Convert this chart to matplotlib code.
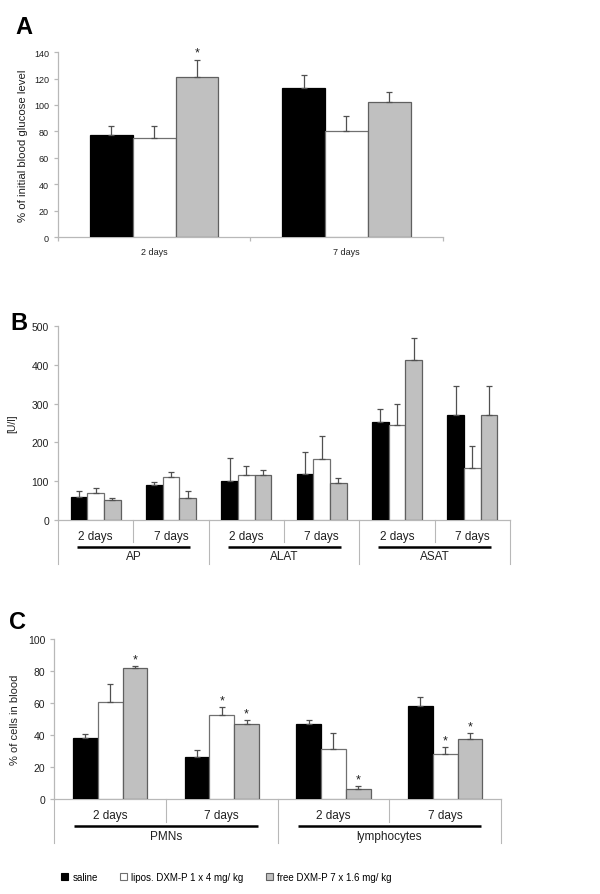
import numpy as np
import matplotlib
matplotlib.use("Agg")
import matplotlib.pyplot as plt
from matplotlib.patches import Patch
from matplotlib.transforms import blended_transform_factory

plt.rcParams["font.family"] = ["Liberation Sans", "DejaVu Sans"]

# ── data ──────────────────────────────────────────────────────────────────────
series_names = ["saline", "lipos. DXM-P 1 x 4 mg/ kg", "free DXM-P 7 x 1.6 mg/ kg"]

# A: blood glucose
a_cats = ["2 days", "7 days"]
a_saline = [77, 113]
a_lipos = [75, 80]
a_free = [121.5, 102]
a_saline_err = [7, 10]
a_lipos_err = [9, 12]
a_free_err = [12.5, 8]
a_stars = [(0, 2)]

# B: enzymes
b_cats = ["2 days", "7 days", "2 days", "7 days", "2 days", "7 days"]
b_groups = ["AP", "ALAT", "ASAT"]
b_saline = [59, 89, 99, 119, 252, 271]
b_lipos = [69, 110, 115, 156, 246, 133]
b_free = [50, 56, 115, 94, 412, 271]
b_saline_err = [16, 9, 60, 55, 33, 75]
b_lipos_err = [12, 14, 23, 61, 54, 57]
b_free_err = [7, 17, 14, 13, 57, 75]

# C: cell counts
c_cats = ["2 days", "7 days", "2 days", "7 days"]
c_groups = ["PMNs", "lymphocytes"]
c_saline = [38.1, 26.5, 47.1, 58.3]
c_lipos = [60.8, 52.7, 31.0, 28.3]
c_free = [81.9, 46.7, 6.0, 37.3]
c_saline_err = [2.5, 3.9, 2.1, 5.2]
c_lipos_err = [10.9, 4.6, 10.0, 4.2]
c_free_err = [1.4, 2.5, 1.9, 3.7]
c_stars = [(0, 2), (1, 1), (1, 2), (2, 2), (3, 1), (3, 2)]

# ── style ─────────────────────────────────────────────────────────────────────
FILLS = ["#000000", "#ffffff", "#c0c0c0"]
EDGES = ["#000000", "#707070", "#606060"]
ERR_COLOR = "#505050"
SPINE = "#b8b8b8"
BW = 0.222

fig = plt.figure(figsize=(6, 8.95), dpi=100)


def bars(ax, vals, errs, stars=(), star_pad=0.0):
    x = np.arange(len(vals[0]))
    for k in range(3):
        xs = x + (k - 1) * BW
        ax.bar(xs, vals[k], BW, color=FILLS[k], edgecolor=EDGES[k], linewidth=0.9, zorder=3)
        ax.errorbar(xs, vals[k], yerr=[np.zeros(len(xs)), errs[k]], fmt="none",
                    ecolor=ERR_COLOR, elinewidth=0.9, capsize=2.2, capthick=0.9, zorder=4)
    for ci, k in stars:
        top = vals[k][ci] + errs[k][ci]
        ax.text(ci + (k - 1) * BW, top + star_pad, "*", ha="center", va="bottom",
                fontsize=9, color="#202020")


def style(ax, ymax, step, lab_size=7):
    ax.set_ylim(0, ymax)
    ax.set_yticks(np.arange(0, ymax + 1, step))
    for s in ["top", "right"]:
        ax.spines[s].set_visible(False)
    for s in ["left", "bottom"]:
        ax.spines[s].set_color(SPINE)
        ax.spines[s].set_linewidth(0.9)
    ax.tick_params(axis="y", colors=SPINE, labelcolor="#202020", labelsize=lab_size,
                   length=3, width=0.9)


def grouping(ax, cats, groups, short_y, long_y, line_y, lab_y, grp_y, half):
    tr = blended_transform_factory(ax.transData, ax.transAxes)
    n = len(cats)
    ax.set_xlim(-0.5, n - 0.5)
    ax.set_xticks([])
    for i, c in enumerate(cats):
        ax.text(i, lab_y, c, transform=tr, ha="center", va="center", fontsize=8.5, color="#202020")
    for b in np.arange(0.5, n - 1, 2):
        ax.plot([b, b], [0, short_y], transform=tr, color=SPINE, lw=0.8, clip_on=False)
    for b in np.arange(-0.5, n, 2):
        ax.plot([b, b], [0, long_y], transform=tr, color=SPINE, lw=0.8, clip_on=False)
    for g, name in enumerate(groups):
        cx = 2 * g + 0.5
        ax.plot([cx - half, cx + half], [line_y, line_y], transform=tr, color="black",
                lw=1.8, clip_on=False, solid_capstyle="butt")
        ax.text(cx, grp_y, name, transform=tr, ha="center", va="center", fontsize=8.5, color="#202020")


# ── panel A ───────────────────────────────────────────────────────────────────
axA = fig.add_axes([0.0967, 0.734, 0.641, 0.2067])
bars(axA, [a_saline, a_lipos, a_free], [a_saline_err, a_lipos_err, a_free_err], a_stars, 1)
style(axA, 140, 20, 6.5)
axA.set_xlim(-0.5, 1.5)
axA.set_xticks([-0.5, 0.5, 1.5])
axA.set_xticklabels([])
axA.set_xticks([0, 1], minor=True)
axA.set_xticklabels(a_cats, minor=True, fontsize=6.5, color="#202020")
axA.tick_params(axis="x", which="major", colors=SPINE, length=3, width=0.9)
axA.tick_params(axis="x", which="minor", length=0, pad=7)
axA.set_ylabel("% of initial blood glucose level", fontsize=8.2, color="#202020", labelpad=4)
fig.text(0.04, 0.969, "A", fontsize=17, fontweight="bold", ha="center", va="center")

# ── panel B ───────────────────────────────────────────────────────────────────
axB = fig.add_axes([0.0967, 0.4182, 0.7533, 0.2161])
bars(axB, [b_saline, b_lipos, b_free], [b_saline_err, b_lipos_err, b_free_err])
style(axB, 500, 100, 7.5)
grouping(axB, b_cats, b_groups, -0.115, -0.229, -0.141, -0.083, -0.188, 0.75)
axB.set_ylabel("[U/l]", fontsize=7.5, color="#202020", labelpad=10)
fig.text(0.031, 0.638, "B", fontsize=17, fontweight="bold", ha="center", va="center")

# ── panel C ───────────────────────────────────────────────────────────────────
axC = fig.add_axes([0.0905, 0.1061, 0.7445, 0.1788])
bars(axC, [c_saline, c_lipos, c_free], [c_saline_err, c_lipos_err, c_free_err], c_stars, 0.5)
style(axC, 100, 20, 7.5)
grouping(axC, c_cats, c_groups, -0.142, -0.275, -0.169, -0.1, -0.231, 0.82)
axC.set_ylabel("% of cells in blood", fontsize=8, color="#202020", labelpad=6)
fig.text(0.03, 0.305, "C", fontsize=17, fontweight="bold", ha="center", va="center")

# ── legend ────────────────────────────────────────────────────────────────────
handles = [Patch(facecolor=FILLS[k], edgecolor=EDGES[k], linewidth=0.8, label=series_names[k])
           for k in range(3)]
fig.legend(handles=handles, loc="center left", bbox_to_anchor=(0.102, 0.019), ncol=3,
           frameon=False, fontsize=7, handlelength=0.75, handleheight=0.75, handletextpad=0.4,
           columnspacing=2.3, borderaxespad=0, borderpad=0)

fig.savefig("out.png", dpi=100, facecolor="white")
